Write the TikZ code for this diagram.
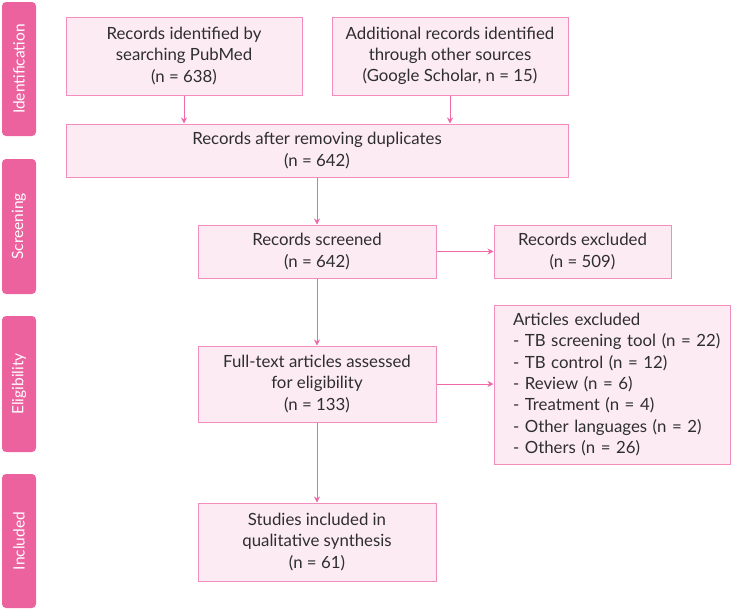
\documentclass[tikz,border=0pt]{standalone}
\usepackage{fontspec}
\setmainfont{Lato}
\usetikzlibrary{arrows.meta,positioning}
\definecolor{barpink}{HTML}{EB629E}
\definecolor{boxfill}{HTML}{FCEBF3}
\definecolor{boxline}{HTML}{F28DBE}
\definecolor{arrowpink}{HTML}{EE6AA8}
\definecolor{txt}{HTML}{2E2E2E}
\tikzset{
  stagebar/.style={fill=barpink, draw=none, rounded corners=4pt},
  stagelabel/.style={text=white, font=\fontsize{15.5}{18}\selectfont, rotate=90, inner sep=0pt},
  flowbox/.style={draw=boxline, fill=boxfill, line width=1pt, text=txt, font=\fontsize{16.8}{21.3}\selectfont, align=center, inner sep=0pt},
  flowarrow/.style={draw=arrowpink, line width=0.9pt, -{Stealth[length=6pt,width=6pt]}}
}
\begin{document}
\begin{tikzpicture}[x=1pt,y=-1pt]
\useasboundingbox (0,0) rectangle (732,611);
% stage bars
\draw[stagebar] (2,2) rectangle (36,136);
\node[stagelabel] (sid) at (19,69) {Identification};
\draw[stagebar] (2,159) rectangle (36,294);
\node[stagelabel] (sscr) at (19,226.5) {Screening};
\draw[stagebar] (2,316) rectangle (36,452);
\node[stagelabel] (seli) at (19,384) {Eligibility};
\draw[stagebar] (2,474) rectangle (36,608);
\node[stagelabel] (sinc) at (19,541) {Included};
% boxes
\node[flowbox, minimum width=236pt, minimum height=78pt] (pub) at (184,56) {Records identified by\\searching PubMed\\(n = 638)};
\node[flowbox, minimum width=236pt, minimum height=78pt] (add) at (450,56) {Additional records identified\\through other sources\\(Google Scholar, n = 15)};
\node[flowbox, minimum width=502pt, minimum height=53pt] (dup) at (317,150.5) {Records after removing duplicates\\(n = 642)};
\node[flowbox, minimum width=238pt, minimum height=53pt] (scr) at (317,251.5) {Records screened\\(n = 642)};
\node[flowbox, minimum width=177pt, minimum height=53pt] (exc) at (582.5,251.5) {Records excluded\\(n = 509)};
\node[flowbox, minimum width=238pt, minimum height=76pt] (ful) at (317,384) {Full-text articles assessed\\for eligibility\\(n = 133)};
\node[flowbox, minimum width=236pt, minimum height=159pt, align=left, text width=198pt] (art) at (612,384.5) {\mbox{Articles excluded}\\\mbox{- TB screening tool (n = 22)}\\\mbox{- TB control (n = 12)}\\\mbox{- Review (n = 6)}\\\mbox{- Treatment (n = 4)}\\\mbox{- Other languages (n = 2)}\\\mbox{- Others (n = 26)}};
\node[flowbox, minimum width=238pt, minimum height=78pt] (stu) at (317,542) {Studies included in\\qualitative synthesis\\(n = 61)};
% arrows
\draw[flowarrow] (pub.south) -- (pub.south |- dup.north);
\draw[flowarrow] (add.south) -- (add.south |- dup.north);
\draw[flowarrow] (dup.south) -- (scr.north);
\draw[flowarrow] (scr.east) -- (exc.west);
\draw[flowarrow] (scr.south) -- (ful.north);
\draw[flowarrow] (ful.east) -- (ful.east -| art.west);
\draw[flowarrow] (ful.south) -- (stu.north);
\end{tikzpicture}
\end{document}
